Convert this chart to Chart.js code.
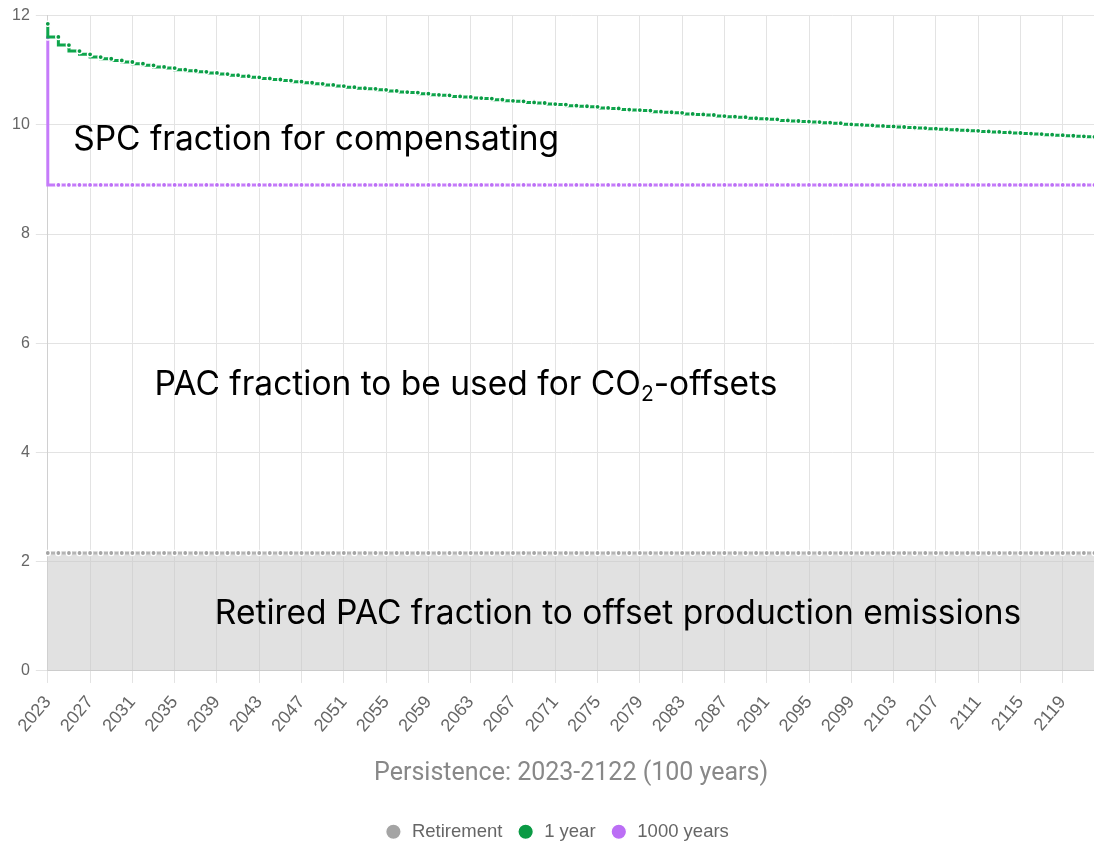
<!DOCTYPE html>
<html>
<head>
<meta charset="utf-8">
<script src="https://cdn.jsdelivr.net/npm/chart.js@4.4.1/dist/chart.umd.min.js"></script>
<style>
  html, body { margin: 0; padding: 0; background: #fff; overflow: hidden; }
  #wrap { width: 1120px; height: 851px; position: relative; }
</style>
</head>
<body>
<div id="wrap"><canvas id="persistenceChart"></canvas></div>
<script>
// years 2023-2122
const years = [
  2023, 2024, 2025, 2026, 2027, 2028, 2029, 2030, 2031, 2032,
  2033, 2034, 2035, 2036, 2037, 2038, 2039, 2040, 2041, 2042,
  2043, 2044, 2045, 2046, 2047, 2048, 2049, 2050, 2051, 2052,
  2053, 2054, 2055, 2056, 2057, 2058, 2059, 2060, 2061, 2062,
  2063, 2064, 2065, 2066, 2067, 2068, 2069, 2070, 2071, 2072,
  2073, 2074, 2075, 2076, 2077, 2078, 2079, 2080, 2081, 2082,
  2083, 2084, 2085, 2086, 2087, 2088, 2089, 2090, 2091, 2092,
  2093, 2094, 2095, 2096, 2097, 2098, 2099, 2100, 2101, 2102,
  2103, 2104, 2105, 2106, 2107, 2108, 2109, 2110, 2111, 2112,
  2113, 2114, 2115, 2116, 2117, 2118, 2119, 2120, 2121, 2122
];

const retirement = [
  2.16, 2.16, 2.16, 2.16, 2.16, 2.16, 2.16, 2.16, 2.16, 2.16,
  2.16, 2.16, 2.16, 2.16, 2.16, 2.16, 2.16, 2.16, 2.16, 2.16,
  2.16, 2.16, 2.16, 2.16, 2.16, 2.16, 2.16, 2.16, 2.16, 2.16,
  2.16, 2.16, 2.16, 2.16, 2.16, 2.16, 2.16, 2.16, 2.16, 2.16,
  2.16, 2.16, 2.16, 2.16, 2.16, 2.16, 2.16, 2.16, 2.16, 2.16,
  2.16, 2.16, 2.16, 2.16, 2.16, 2.16, 2.16, 2.16, 2.16, 2.16,
  2.16, 2.16, 2.16, 2.16, 2.16, 2.16, 2.16, 2.16, 2.16, 2.16,
  2.16, 2.16, 2.16, 2.16, 2.16, 2.16, 2.16, 2.16, 2.16, 2.16,
  2.16, 2.16, 2.16, 2.16, 2.16, 2.16, 2.16, 2.16, 2.16, 2.16,
  2.16, 2.16, 2.16, 2.16, 2.16, 2.16, 2.16, 2.16, 2.16, 2.16
];

const oneYear = [
  11.85, 11.61, 11.46, 11.35, 11.29, 11.24, 11.21, 11.18, 11.15, 11.12,
  11.09, 11.06, 11.04, 11.01, 10.99, 10.97, 10.95, 10.93, 10.91, 10.89,
  10.87, 10.85, 10.83, 10.81, 10.79, 10.77, 10.75, 10.73, 10.71, 10.69,
  10.67, 10.66, 10.64, 10.62, 10.60, 10.59, 10.57, 10.55, 10.54, 10.52,
  10.51, 10.49, 10.48, 10.46, 10.44, 10.43, 10.41, 10.40, 10.38, 10.37,
  10.35, 10.34, 10.33, 10.31, 10.30, 10.28, 10.27, 10.26, 10.24, 10.23,
  10.22, 10.20, 10.19, 10.18, 10.16, 10.15, 10.14, 10.12, 10.11, 10.10,
  10.08, 10.07, 10.06, 10.05, 10.04, 10.03, 10.01, 10.00, 9.99, 9.98,
  9.97, 9.96, 9.95, 9.94, 9.93, 9.92, 9.91, 9.90, 9.89, 9.88,
  9.87, 9.86, 9.85, 9.84, 9.83, 9.82, 9.81, 9.80, 9.79, 9.78
];

const thousandYears = [
  11.60, 8.90, 8.90, 8.90, 8.90, 8.90, 8.90, 8.90, 8.90, 8.90,
  8.90, 8.90, 8.90, 8.90, 8.90, 8.90, 8.90, 8.90, 8.90, 8.90,
  8.90, 8.90, 8.90, 8.90, 8.90, 8.90, 8.90, 8.90, 8.90, 8.90,
  8.90, 8.90, 8.90, 8.90, 8.90, 8.90, 8.90, 8.90, 8.90, 8.90,
  8.90, 8.90, 8.90, 8.90, 8.90, 8.90, 8.90, 8.90, 8.90, 8.90,
  8.90, 8.90, 8.90, 8.90, 8.90, 8.90, 8.90, 8.90, 8.90, 8.90,
  8.90, 8.90, 8.90, 8.90, 8.90, 8.90, 8.90, 8.90, 8.90, 8.90,
  8.90, 8.90, 8.90, 8.90, 8.90, 8.90, 8.90, 8.90, 8.90, 8.90,
  8.90, 8.90, 8.90, 8.90, 8.90, 8.90, 8.90, 8.90, 8.90, 8.90,
  8.90, 8.90, 8.90, 8.90, 8.90, 8.90, 8.90, 8.90, 8.90, 8.90
];

const yTicks = [0, 2, 4, 6, 8, 10, 12];

// text labels drawn inside the plot area
const notes = [
  { parts: [['SPC fraction for compensating', false]], x: 2.4, y: 9.73 },
  { parts: [['PAC fraction to be used for CO', false], ['2', true], ['-offsets', false]], x: 10.1, y: 5.24 },
  { parts: [['Retired PAC fraction to offset production emissions', false]], x: 15.8, y: 1.04 }
];

const noteFont = 'Inter, "Liberation Sans", Arial, sans-serif';

const notesPlugin = {
  id: 'notes',
  afterDatasetsDraw(chart) {
    const ctx = chart.ctx;
    const xs = chart.scales.x, ys = chart.scales.y;
    ctx.save();
    ctx.fillStyle = '#000';
    ctx.textBaseline = 'middle';
    ctx.textAlign = 'left';
    notes.forEach(n => {
      let px = xs.getPixelForValue(n.x);
      const py = ys.getPixelForValue(n.y);
      n.parts.forEach(([txt, sub]) => {
        ctx.font = (sub ? '21px ' : '33.5px ') + noteFont;
        ctx.fillText(txt, px, sub ? py + 10 : py);
        px += ctx.measureText(txt).width;
      });
    });
    ctx.restore();
  }
};

const gridColor = '#e3e3e3';
const sans = '"Liberation Sans", Arial, sans-serif';

new Chart(document.getElementById('persistenceChart'), {
  type: 'line',
  data: {
    labels: years,
    datasets: [
      {
        label: 'Retirement',
        data: retirement,
        stepped: 'after',
        borderColor: '#b4b4b4',
        backgroundColor: '#a9a9a9',
        borderWidth: 3,
        pointRadius: 2.6,
        pointBorderWidth: 1.4,
        pointBorderColor: '#ffffff',
        pointBackgroundColor: '#a4a4a4',
        fill: { target: 'origin', above: 'rgba(200,200,200,0.55)' }
      },
      {
        label: '1 year',
        data: oneYear,
        stepped: 'after',
        borderColor: '#0ea64c',
        backgroundColor: '#0ea64c',
        borderWidth: 3,
        pointRadius: 2.6,
        pointBorderWidth: 1.4,
        pointBorderColor: '#ffffff',
        pointBackgroundColor: '#0a9a44',
        fill: false
      },
      {
        label: '1000 years',
        data: thousandYears,
        stepped: 'after',
        borderColor: '#c57bfa',
        backgroundColor: '#c57bfa',
        borderWidth: 3,
        pointRadius: 2.6,
        pointBorderWidth: 1.4,
        pointBorderColor: '#ffffff',
        pointBackgroundColor: '#bb6ef5',
        fill: false
      }
    ]
  },
  options: {
    responsive: true,
    maintainAspectRatio: false,
    animation: false,
    layout: { padding: { left: 6, right: 13, top: 10, bottom: 0 } },
    scales: {
      x: {
        grid: {
          color: c => (c.index % 4 === 0 ? gridColor : 'rgba(0,0,0,0)'),
          tickLength: 12
        },
        border: { color: '#d0d0d0' },
        ticks: {
          autoSkip: false,
          minRotation: 50,
          maxRotation: 50,
          padding: 9,
          color: '#666',
          font: { size: 18, family: sans },
          callback: function (v, i) { return i % 4 === 0 ? this.getLabelForValue(v) : ''; }
        },
        title: {
          display: true,
          text: 'Persistence: 2023-2122 (100 years)',
          color: '#888',
          font: { size: 25, family: 'Roboto, sans-serif' },
          padding: { top: 13, bottom: 20 }
        }
      },
      y: {
        min: 0,
        max: 12,
        afterBuildTicks: s => { s.ticks = yTicks.map(v => ({ value: v })); },
        grid: { color: gridColor, tickLength: 12 },
        border: { color: '#d0d0d0' },
        ticks: {
          color: '#666',
          padding: 6,
          font: { size: 16, family: sans }
        }
      }
    },
    plugins: {
      legend: {
        position: 'bottom',
        labels: {
          usePointStyle: true,
          pointStyle: 'circle',
          boxHeight: 11,
          padding: 14,
          color: '#666',
          font: { size: 18.5, family: sans }
        }
      },
      tooltip: { enabled: false }
    }
  },
  plugins: [notesPlugin]
});
</script>
</body>
</html>
